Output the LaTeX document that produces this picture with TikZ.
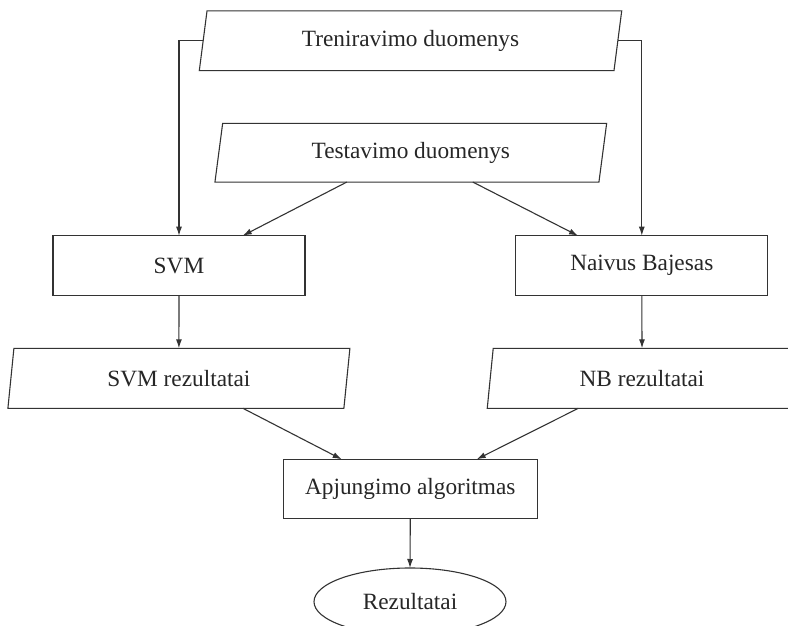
\documentclass[tikz,border=0pt]{standalone}
\usepackage{fontspec}
\setmainfont{Liberation Serif}
\usetikzlibrary{shapes.geometric,arrows.meta}
\begin{document}
\begin{tikzpicture}[x=1pt,y=-1pt,
  every node/.style={font=\fontsize{23.3}{28}\selectfont, text=black!85, draw=black!80, line width=1.1pt, inner sep=0pt, outer sep=0pt},
  para/.style={trapezium, trapezium left angle=70, trapezium right angle=110, trapezium stretches body},
  box/.style={rectangle, minimum width=252pt, minimum height=59.6pt},
  conn/.style={draw=black!80, line width=1.1pt, -{Latex[length=9pt,width=6pt]}}
]
\useasboundingbox (0,0) rectangle (788,626);
\clip (0,0) rectangle (788,626);
\fill[white] (0,0) rectangle (788,626);

\node[para, minimum width=422.4pt, minimum height=59.7pt] (train) at (410.5,40.8) {Treniravimo duomenys};
\node[para, minimum width=391.7pt, minimum height=58.7pt] (test) at (410.8,152.7) {Testavimo duomenys};
\node[box] (svm) at (179,265.5) {SVM};
\node[box] (nb) at (641.8,265.5) {Naivus Bajesas};
\node[para, minimum width=342pt, minimum height=60pt] (svmr) at (178.9,378.3) {SVM rezultatai};
\node[para, minimum width=309.5pt, minimum height=60pt] (nbr) at (642,378.3) {NB rezultatai};
\node[rectangle, minimum width=254pt, minimum height=59pt] (apj) at (410.3,488.8) {Apjungimo algoritmas};
\node[ellipse, minimum width=192pt, minimum height=67.4pt] (rez) at (410,601.7) {Rezultatai};

\draw[conn] (train.west) -| (svm.north);
\draw[conn] (train.east) -| (nb.north);
\draw[conn] ([xshift=-64pt]test.south) -- ([xshift=63.7pt]svm.north);
\draw[conn] ([xshift=62pt]test.south) -- ([xshift=-63.8pt]nb.north);
\draw[conn] (svm.south) -- (svmr.north);
\draw[conn] (nb.south) -- (nbr.north);
\draw[conn] ([xshift=64pt]svmr.south) -- ([xshift=-68.6pt]apj.north);
\draw[conn] ([xshift=-63.7pt]nbr.south) -- ([xshift=66.4pt]apj.north);
\draw[conn] (apj.south) -- (rez.north);
\end{tikzpicture}
\end{document}
